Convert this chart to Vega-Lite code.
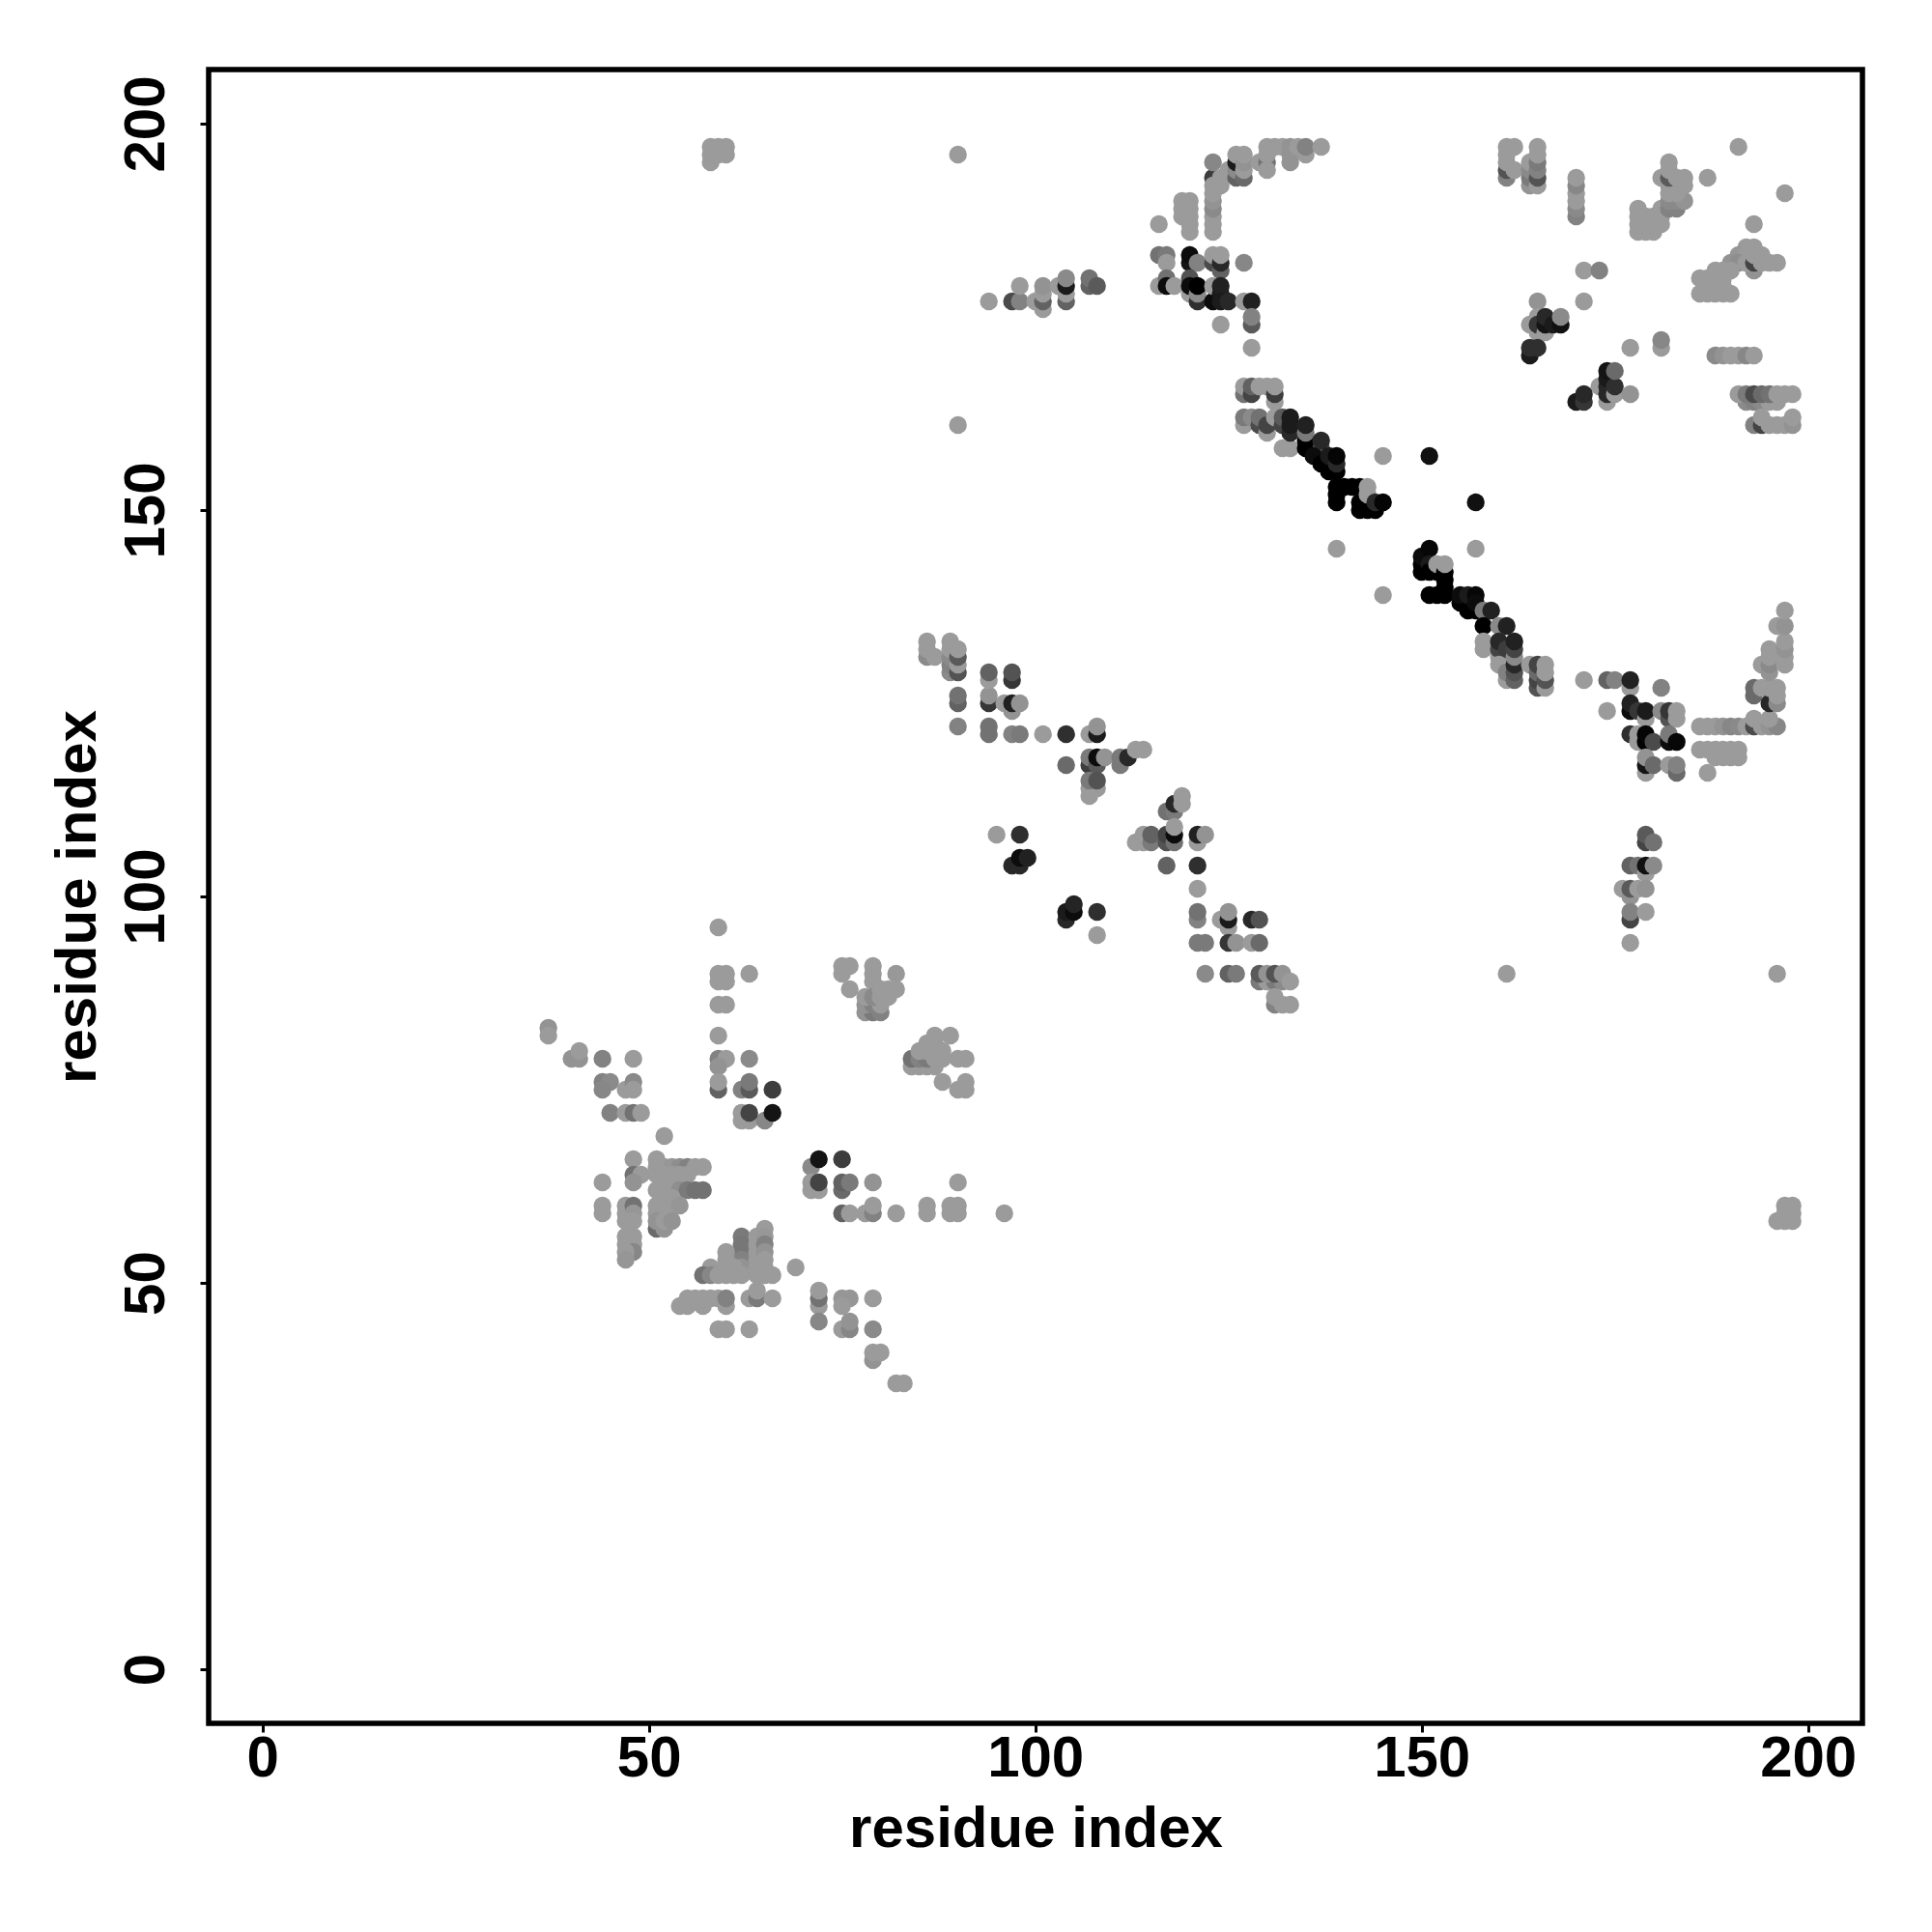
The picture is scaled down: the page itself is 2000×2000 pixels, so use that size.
{"$schema":"https://vega.github.io/schema/vega-lite/v6.json","width":1712,"height":1712,"autosize":{"type":"none"},"padding":{"left":216,"top":72,"right":72,"bottom":216},"background":"white","config":{"view":{"stroke":"#000","strokeWidth":5.5}},
"data":{"values":[
{"x":59,"y":96,"v":0},{"x":59,"y":90,"v":0},{"x":60,"y":90,"v":0},{"x":59,"y":89,"v":0},{"x":60,"y":89,"v":0},{"x":63,"y":90,"v":0},{"x":59,"y":86,"v":0},{"x":60,"y":86,"v":0},{"x":59,"y":82,"v":0},{"x":37,"y":83,"v":0.05},{"x":37,"y":82,"v":0},{"x":40,"y":79,"v":0.05},{"x":41,"y":79,"v":0.05},{"x":41,"y":80,"v":0},{"x":44,"y":79,"v":0.15},{"x":48,"y":79,"v":0},
{"x":44,"y":76,"v":0.15},{"x":45,"y":76,"v":0.1},{"x":44,"y":75,"v":0.12},{"x":47,"y":75,"v":0},{"x":48,"y":76,"v":0.1},{"x":48,"y":75,"v":0},{"x":45,"y":72,"v":0.15},{"x":47,"y":72,"v":0},{"x":48,"y":72,"v":0.25},{"x":49,"y":72,"v":0},
{"x":59,"y":79,"v":0.15},{"x":60,"y":79,"v":0},{"x":63,"y":79,"v":0.1},{"x":59,"y":78,"v":0.05},{"x":59,"y":75,"v":0.35},{"x":59,"y":76,"v":0},{"x":62,"y":75,"v":0.15},{"x":63,"y":75,"v":0.4},{"x":63,"y":76,"v":0.2},{"x":66,"y":75,"v":0.6},{"x":62,"y":71,"v":0},{"x":63,"y":71,"v":0},{"x":65,"y":71,"v":0.12},{"x":62,"y":72,"v":0},{"x":63,"y":72,"v":0.55},{"x":66,"y":72,"v":0.9},{"x":52,"y":69,"v":0},
{"x":48,"y":66,"v":0},{"x":51,"y":66,"v":0},{"x":51,"y":65,"v":0},{"x":52,"y":65,"v":0},{"x":53,"y":65,"v":0.03},{"x":54,"y":65,"v":0.08},{"x":55,"y":65,"v":0.15},{"x":56,"y":65,"v":0},{"x":57,"y":65,"v":0},{"x":48,"y":64,"v":0.25},{"x":49,"y":64,"v":0},{"x":48,"y":63,"v":0.05},{"x":44,"y":63,"v":0},{"x":51,"y":64,"v":0},{"x":52,"y":64,"v":0},{"x":53,"y":64,"v":0},{"x":54,"y":64,"v":0},{"x":55,"y":64,"v":0},
{"x":51,"y":62,"v":0},{"x":52,"y":62,"v":0},{"x":53,"y":62,"v":0},{"x":54,"y":62,"v":0.08},{"x":55,"y":62,"v":0.2},{"x":56,"y":62,"v":0.25},{"x":57,"y":62,"v":0.25},{"x":52,"y":61,"v":0},{"x":53,"y":61,"v":0},{"x":44,"y":60,"v":0},{"x":44,"y":59,"v":0},{"x":47,"y":60,"v":0},{"x":47,"y":59,"v":0},{"x":48,"y":60,"v":0.25},{"x":48,"y":59,"v":0.03},{"x":51,"y":60,"v":0},{"x":52,"y":60,"v":0},{"x":53,"y":60,"v":0},{"x":54,"y":60,"v":0.03},{"x":51,"y":59,"v":0},{"x":52,"y":59,"v":0},{"x":51,"y":57,"v":0.3},{"x":52,"y":57,"v":0.05},{"x":51,"y":58,"v":0.05},{"x":52,"y":58,"v":0},{"x":53,"y":58,"v":0.05},
{"x":47,"y":58,"v":0},{"x":48,"y":58,"v":0},{"x":47,"y":56,"v":0},{"x":48,"y":56,"v":0},{"x":47,"y":55,"v":0},{"x":48,"y":55,"v":0},{"x":48,"y":54,"v":0.12},{"x":47,"y":54,"v":0},{"x":47,"y":53,"v":0.03},
{"x":75,"y":91,"v":0},{"x":76,"y":91,"v":0},{"x":75,"y":90,"v":0},{"x":76,"y":88,"v":0},{"x":79,"y":91,"v":0},{"x":79,"y":90,"v":0},{"x":82,"y":90,"v":0.02},{"x":79,"y":89,"v":0},{"x":78,"y":85,"v":0.05},{"x":79,"y":85,"v":0.2},{"x":80,"y":85,"v":0.15},{"x":78,"y":86,"v":0.05},{"x":79,"y":86,"v":0.15},{"x":80,"y":86,"v":0},{"x":78,"y":87,"v":0},{"x":79,"y":87,"v":0.1},{"x":80,"y":87,"v":0},{"x":81,"y":87,"v":0},{"x":80,"y":88,"v":0},{"x":81,"y":88,"v":0},{"x":82,"y":88,"v":0},
{"x":84,"y":78,"v":0},{"x":85,"y":78,"v":0},{"x":86,"y":78,"v":0},{"x":87,"y":78,"v":0},{"x":84,"y":79,"v":0.25},{"x":85,"y":79,"v":0.15},{"x":86,"y":79,"v":0.2},{"x":87,"y":79,"v":0},{"x":88,"y":79,"v":0},{"x":85,"y":80,"v":0},{"x":86,"y":80,"v":0},{"x":87,"y":80,"v":0},{"x":88,"y":80,"v":0},{"x":86,"y":81,"v":0},{"x":87,"y":81,"v":0},{"x":87,"y":82,"v":0},{"x":89,"y":82,"v":0},{"x":90,"y":79,"v":0},{"x":91,"y":79,"v":0},{"x":88,"y":76,"v":0},{"x":90,"y":75,"v":0},{"x":91,"y":75,"v":0},{"x":91,"y":76,"v":0},
{"x":71,"y":65,"v":0.1},{"x":72,"y":66,"v":0.9},{"x":75,"y":66,"v":0.6},{"x":71,"y":62,"v":0},{"x":72,"y":62,"v":0},{"x":71,"y":63,"v":0},{"x":72,"y":63,"v":0.55},{"x":75,"y":62,"v":0.3},{"x":75,"y":63,"v":0.35},{"x":76,"y":63,"v":0.2},{"x":79,"y":63,"v":0.05},{"x":75,"y":59,"v":0.35},{"x":76,"y":59,"v":0},{"x":78,"y":59,"v":0},{"x":79,"y":59,"v":0.15},{"x":79,"y":60,"v":0},{"x":82,"y":59,"v":0},{"x":86,"y":59,"v":0},{"x":86,"y":60,"v":0},{"x":89,"y":59,"v":0},{"x":90,"y":59,"v":0},{"x":89,"y":60,"v":0},{"x":90,"y":60,"v":0},{"x":90,"y":63,"v":0},{"x":96,"y":59,"v":0},
{"x":62,"y":56,"v":0.2},{"x":62,"y":55,"v":0.22},{"x":62,"y":54,"v":0.22},{"x":62,"y":53,"v":0.15},{"x":62,"y":52,"v":0.05},{"x":64,"y":56,"v":0},{"x":64,"y":55,"v":0},{"x":64,"y":54,"v":0},{"x":64,"y":53,"v":0},{"x":64,"y":52,"v":0},{"x":65,"y":57,"v":0},{"x":65,"y":56,"v":0.02},{"x":65,"y":55,"v":0.15},{"x":65,"y":54,"v":0.05},{"x":65,"y":53,"v":0},{"x":65,"y":52,"v":0},{"x":60,"y":54,"v":0},{"x":60,"y":53,"v":0},{"x":60,"y":52,"v":0},{"x":61,"y":52,"v":0},{"x":58,"y":52,"v":0},{"x":57,"y":51,"v":0.25},{"x":58,"y":51,"v":0.12},{"x":59,"y":51,"v":0},{"x":60,"y":51,"v":0},{"x":61,"y":51,"v":0},{"x":62,"y":51,"v":0},{"x":64,"y":51,"v":0},{"x":65,"y":51,"v":0},{"x":66,"y":51,"v":0},{"x":69,"y":52,"v":0},
{"x":54,"y":47,"v":0},{"x":55,"y":47,"v":0},{"x":57,"y":47,"v":0},{"x":60,"y":47,"v":0},{"x":55,"y":48,"v":0},{"x":56,"y":48,"v":0},{"x":57,"y":48,"v":0},{"x":58,"y":48,"v":0},{"x":59,"y":48,"v":0},{"x":60,"y":48,"v":0.15},{"x":63,"y":48,"v":0},{"x":64,"y":48,"v":0.2},{"x":64,"y":49,"v":0},{"x":66,"y":48,"v":0},
{"x":72,"y":47,"v":0},{"x":72,"y":48,"v":0.25},{"x":72,"y":49,"v":0},{"x":72,"y":45,"v":0.12},{"x":75,"y":48,"v":0.03},{"x":76,"y":48,"v":0.03},{"x":75,"y":47,"v":0},{"x":75,"y":44,"v":0},{"x":76,"y":44,"v":0.12},{"x":76,"y":45,"v":0.05},{"x":79,"y":48,"v":0},{"x":79,"y":44,"v":0.1},{"x":79,"y":40,"v":0.05},{"x":79,"y":41,"v":0},{"x":80,"y":41,"v":0},{"x":82,"y":37,"v":0},{"x":83,"y":37,"v":0},{"x":59,"y":44,"v":0},{"x":60,"y":44,"v":0},{"x":63,"y":44,"v":0},
{"x":86,"y":131,"v":0.1},{"x":86,"y":132,"v":0},{"x":86,"y":133,"v":0},{"x":87,"y":131,"v":0},{"x":89,"y":129,"v":0.1},{"x":89,"y":130,"v":0.15},{"x":89,"y":131,"v":0.1},{"x":89,"y":132,"v":0},{"x":89,"y":133,"v":0},{"x":90,"y":129,"v":0.45},{"x":90,"y":130,"v":0},{"x":90,"y":131,"v":0.4},{"x":90,"y":132,"v":0},{"x":90,"y":125,"v":0.35},{"x":90,"y":126,"v":0.25},{"x":90,"y":122,"v":0.15},
{"x":94,"y":125,"v":0.65},{"x":94,"y":126,"v":0.05},{"x":94,"y":128,"v":0},{"x":94,"y":129,"v":0.35},{"x":94,"y":121,"v":0.25},{"x":94,"y":122,"v":0.25},{"x":97,"y":128,"v":0.65},{"x":97,"y":129,"v":0.45},{"x":96,"y":125,"v":0},{"x":97,"y":124,"v":0.05},{"x":97,"y":125,"v":0.8},{"x":98,"y":125,"v":0.05},{"x":97,"y":121,"v":0.15},{"x":98,"y":121,"v":0.2},{"x":101,"y":121,"v":0},{"x":104,"y":121,"v":0.7},{"x":107,"y":121,"v":0},{"x":108,"y":121,"v":0.85},{"x":108,"y":122,"v":0.05},
{"x":104,"y":117,"v":0.3},{"x":107,"y":117,"v":0.6},{"x":107,"y":118,"v":0.2},{"x":108,"y":117,"v":0.4},{"x":108,"y":118,"v":0.95},{"x":109,"y":118,"v":0.05},{"x":107,"y":113,"v":0},{"x":107,"y":114,"v":0},{"x":108,"y":114,"v":0},{"x":107,"y":115,"v":0.2},{"x":108,"y":115,"v":0.45},{"x":111,"y":117,"v":0.2},{"x":111,"y":118,"v":0.2},{"x":112,"y":118,"v":0.75},{"x":113,"y":119,"v":0},{"x":114,"y":119,"v":0},
{"x":117,"y":111,"v":0.25},{"x":118,"y":111,"v":0.2},{"x":118,"y":112,"v":0.75},{"x":119,"y":112,"v":0},{"x":119,"y":113,"v":0},{"x":95,"y":108,"v":0},{"x":98,"y":108,"v":0.7},{"x":97,"y":104,"v":0.75},{"x":98,"y":104,"v":0.75},{"x":98,"y":105,"v":0.95},{"x":99,"y":105,"v":0.8},
{"x":113,"y":107,"v":0},{"x":114,"y":107,"v":0},{"x":114,"y":108,"v":0},{"x":115,"y":107,"v":0.2},{"x":115,"y":108,"v":0.35},{"x":117,"y":107,"v":0.45},{"x":117,"y":108,"v":0.55},{"x":118,"y":107,"v":0.25},{"x":118,"y":108,"v":0.95},{"x":118,"y":109,"v":0},{"x":121,"y":107,"v":0},{"x":121,"y":108,"v":0.8},{"x":122,"y":108,"v":0.05},{"x":117,"y":104,"v":0.35},{"x":121,"y":104,"v":0.7},{"x":121,"y":101,"v":0},
{"x":104,"y":97,"v":0.75},{"x":104,"y":98,"v":0.85},{"x":105,"y":98,"v":0.95},{"x":105,"y":99,"v":0.78},{"x":108,"y":98,"v":0.7},{"x":108,"y":95,"v":0},{"x":121,"y":97,"v":0.15},{"x":121,"y":98,"v":0.25},{"x":124,"y":97,"v":0},{"x":125,"y":96,"v":0},{"x":125,"y":97,"v":0.85},{"x":125,"y":98,"v":0.05},{"x":128,"y":97,"v":0.75},{"x":129,"y":97,"v":0.45},
{"x":121,"y":94,"v":0.2},{"x":122,"y":94,"v":0.2},{"x":125,"y":94,"v":0.65},{"x":126,"y":94,"v":0.05},{"x":128,"y":94,"v":0},{"x":129,"y":94,"v":0.3},{"x":122,"y":90,"v":0.1},{"x":125,"y":90,"v":0.35},{"x":126,"y":90,"v":0.2},{"x":129,"y":89,"v":0.2},{"x":130,"y":89,"v":0},{"x":131,"y":89,"v":0.2},{"x":132,"y":89,"v":0.1},{"x":129,"y":90,"v":0.4},{"x":130,"y":90,"v":0.05},{"x":131,"y":90,"v":0.45},{"x":132,"y":90,"v":0.05},{"x":133,"y":89,"v":0},{"x":131,"y":86,"v":0.15},{"x":131,"y":87,"v":0},{"x":132,"y":86,"v":0},{"x":133,"y":86,"v":0},
{"x":94,"y":177,"v":0},{"x":97,"y":177,"v":0.5},{"x":98,"y":177,"v":0.15},{"x":98,"y":179,"v":0},{"x":100,"y":177,"v":0},{"x":101,"y":176,"v":0},{"x":101,"y":177,"v":0.35},{"x":101,"y":178,"v":0},{"x":101,"y":179,"v":0.05},{"x":103,"y":179,"v":0},{"x":104,"y":177,"v":0.35},{"x":104,"y":178,"v":0},{"x":104,"y":179,"v":0.85},{"x":104,"y":180,"v":0.1},{"x":107,"y":179,"v":0.35},{"x":107,"y":180,"v":0.25},{"x":108,"y":179,"v":0.4},
{"x":116,"y":187,"v":0},{"x":119,"y":188,"v":0},{"x":119,"y":189,"v":0},{"x":119,"y":190,"v":0},{"x":120,"y":186,"v":0},{"x":120,"y":187,"v":0},{"x":120,"y":188,"v":0},{"x":120,"y":189,"v":0},{"x":120,"y":190,"v":0},
{"x":123,"y":186,"v":0},{"x":123,"y":187,"v":0},{"x":123,"y":188,"v":0},{"x":123,"y":189,"v":0.1},{"x":123,"y":190,"v":0.05},{"x":123,"y":191,"v":0},{"x":123,"y":193,"v":0.6},{"x":123,"y":192,"v":0},{"x":123,"y":195,"v":0.12},{"x":124,"y":193,"v":0},{"x":124,"y":192,"v":0},{"x":125,"y":194,"v":0},{"x":126,"y":193,"v":0.35},{"x":126,"y":194,"v":0.1},{"x":126,"y":195,"v":0.85},{"x":126,"y":196,"v":0},{"x":127,"y":193,"v":0.3},{"x":127,"y":194,"v":0},{"x":127,"y":195,"v":0.05},{"x":127,"y":196,"v":0},{"x":129,"y":195,"v":0},{"x":130,"y":195,"v":0.25},{"x":130,"y":194,"v":0},{"x":130,"y":196,"v":0},{"x":130,"y":197,"v":0},{"x":131,"y":197,"v":0},{"x":132,"y":197,"v":0},{"x":133,"y":195,"v":0.05},{"x":133,"y":196,"v":0.05},{"x":133,"y":197,"v":0.05},{"x":134,"y":197,"v":0},{"x":135,"y":196,"v":0},{"x":135,"y":197,"v":0.15},{"x":137,"y":197,"v":0},
{"x":116,"y":183,"v":0.25},{"x":117,"y":183,"v":0.2},{"x":117,"y":182,"v":0},{"x":120,"y":182,"v":0.9},{"x":120,"y":183,"v":0.95},{"x":121,"y":182,"v":0.15},{"x":123,"y":182,"v":0.5},{"x":123,"y":183,"v":0},{"x":124,"y":181,"v":0.35},{"x":124,"y":182,"v":0.75},{"x":124,"y":183,"v":0},{"x":127,"y":182,"v":0.12},
{"x":116,"y":179,"v":0},{"x":117,"y":180,"v":0.25},{"x":117,"y":179,"v":0.95},{"x":118,"y":179,"v":0},{"x":120,"y":178,"v":0},{"x":120,"y":180,"v":0.45},{"x":120,"y":179,"v":0.95},{"x":121,"y":177,"v":0.7},{"x":121,"y":178,"v":0.1},{"x":121,"y":179,"v":1},{"x":123,"y":177,"v":0.95},{"x":123,"y":179,"v":0},{"x":124,"y":178,"v":0.85},{"x":124,"y":179,"v":0.8},{"x":124,"y":177,"v":0.85},{"x":125,"y":177,"v":0.75},{"x":127,"y":177,"v":0},{"x":128,"y":177,"v":0.8},{"x":128,"y":174,"v":0.4},{"x":128,"y":175,"v":0.15},{"x":124,"y":174,"v":0},{"x":128,"y":171,"v":0},
{"x":127,"y":165,"v":0.25},{"x":127,"y":166,"v":0},{"x":128,"y":165,"v":0.55},{"x":128,"y":166,"v":0.35},{"x":129,"y":166,"v":0},{"x":130,"y":166,"v":0},{"x":131,"y":164,"v":0},{"x":131,"y":165,"v":0.6},{"x":131,"y":166,"v":0},
{"x":127,"y":161,"v":0},{"x":127,"y":162,"v":0.2},{"x":128,"y":162,"v":0.1},{"x":129,"y":161,"v":0.5},{"x":129,"y":162,"v":0.25},{"x":130,"y":160,"v":0},{"x":130,"y":161,"v":0.55},{"x":131,"y":162,"v":0},{"x":132,"y":158,"v":0},{"x":133,"y":158,"v":0},{"x":132,"y":161,"v":0.55},{"x":132,"y":162,"v":0.4},{"x":133,"y":160,"v":0.75},{"x":133,"y":161,"v":0.85},{"x":133,"y":162,"v":0.85},{"x":135,"y":158,"v":1},{"x":135,"y":159,"v":1},{"x":135,"y":160,"v":0.2},{"x":135,"y":161,"v":0.8},{"x":137,"y":158,"v":0.45},{"x":136,"y":157,"v":0.95},{"x":137,"y":159,"v":0.75},
{"x":138,"y":155,"v":1},{"x":139,"y":155,"v":1},{"x":138,"y":156,"v":1},{"x":137,"y":156,"v":1},{"x":138,"y":157,"v":0.85},{"x":139,"y":156,"v":0.75},{"x":139,"y":157,"v":0.98},{"x":139,"y":151,"v":1},{"x":139,"y":152,"v":1},{"x":139,"y":153,"v":1},{"x":140,"y":153,"v":1},{"x":141,"y":153,"v":1},{"x":142,"y":153,"v":1},{"x":142,"y":150,"v":1},{"x":142,"y":151,"v":1},{"x":143,"y":150,"v":1},{"x":144,"y":150,"v":1},{"x":143,"y":152,"v":0},{"x":143,"y":153,"v":0},{"x":144,"y":151,"v":0.75},{"x":145,"y":151,"v":0.98},
{"x":145,"y":157,"v":0},{"x":151,"y":157,"v":0.92},{"x":157,"y":151,"v":0.92},{"x":139,"y":145,"v":0},{"x":157,"y":145,"v":0},{"x":145,"y":139,"v":0},
{"x":150,"y":142,"v":1},{"x":150,"y":143,"v":1},{"x":150,"y":144,"v":0.95},{"x":151,"y":145,"v":0.97},{"x":151,"y":143,"v":0.85},{"x":151,"y":142,"v":1},{"x":152,"y":142,"v":1},{"x":152,"y":143,"v":0},{"x":153,"y":139,"v":1},{"x":153,"y":140,"v":1},{"x":153,"y":141,"v":1},{"x":153,"y":142,"v":1},{"x":153,"y":143,"v":0},{"x":151,"y":139,"v":1},{"x":152,"y":139,"v":1},{"x":155,"y":138,"v":1},{"x":155,"y":139,"v":0.95},{"x":156,"y":137,"v":1},{"x":156,"y":139,"v":0.85},{"x":157,"y":139,"v":0.97},{"x":157,"y":137,"v":1},{"x":157,"y":138,"v":0.95},{"x":158,"y":137,"v":0.2},{"x":159,"y":137,"v":0.8},
{"x":158,"y":135,"v":1},{"x":160,"y":135,"v":0.1},{"x":161,"y":135,"v":0.8},{"x":158,"y":132,"v":0},{"x":158,"y":133,"v":0},{"x":160,"y":131,"v":0},{"x":161,"y":131,"v":0.1},{"x":160,"y":132,"v":0.55},{"x":160,"y":133,"v":0.75},{"x":161,"y":132,"v":0.6},{"x":160,"y":130,"v":0},{"x":161,"y":128,"v":0},{"x":161,"y":129,"v":0.15},{"x":162,"y":128,"v":0.35},{"x":162,"y":129,"v":0.45},{"x":162,"y":130,"v":0.75},{"x":162,"y":131,"v":0.1},{"x":162,"y":132,"v":0.55},{"x":162,"y":133,"v":0.8},
{"x":164,"y":130,"v":0},{"x":165,"y":127,"v":0.45},{"x":165,"y":128,"v":0.55},{"x":165,"y":129,"v":0.3},{"x":165,"y":130,"v":0.55},{"x":166,"y":127,"v":0},{"x":166,"y":128,"v":0.45},{"x":166,"y":129,"v":0},{"x":166,"y":130,"v":0},
{"x":171,"y":128,"v":0},{"x":174,"y":128,"v":0.35},{"x":175,"y":128,"v":0.15},{"x":177,"y":127,"v":0},{"x":177,"y":128,"v":0.8},{"x":181,"y":127,"v":0.15},{"x":174,"y":124,"v":0},{"x":177,"y":124,"v":0.95},{"x":177,"y":125,"v":0.8},{"x":178,"y":124,"v":0.65},{"x":179,"y":123,"v":0},{"x":179,"y":124,"v":0.85},{"x":181,"y":124,"v":0.1},{"x":182,"y":123,"v":0.45},{"x":182,"y":124,"v":0.65},{"x":183,"y":123,"v":0},{"x":183,"y":124,"v":0},
{"x":177,"y":121,"v":0.7},{"x":178,"y":120,"v":0},{"x":178,"y":121,"v":0},{"x":179,"y":120,"v":1},{"x":179,"y":121,"v":0.98},{"x":180,"y":120,"v":0.5},{"x":182,"y":120,"v":0.95},{"x":182,"y":121,"v":0.2},{"x":183,"y":120,"v":0.97},{"x":179,"y":116,"v":0},{"x":179,"y":117,"v":0.9},{"x":179,"y":118,"v":0.05},{"x":180,"y":117,"v":0.3},{"x":182,"y":117,"v":0},{"x":183,"y":116,"v":0.3},{"x":183,"y":117,"v":0.15},{"x":187,"y":116,"v":0},
{"x":186,"y":122,"v":0},{"x":187,"y":122,"v":0},{"x":188,"y":122,"v":0},{"x":189,"y":122,"v":0.05},{"x":190,"y":122,"v":0.12},{"x":191,"y":122,"v":0.1},{"x":192,"y":122,"v":0},{"x":193,"y":122,"v":0.5},{"x":194,"y":122,"v":0},{"x":195,"y":122,"v":0.05},{"x":196,"y":122,"v":0.12},{"x":186,"y":119,"v":0},{"x":187,"y":119,"v":0},{"x":188,"y":119,"v":0},{"x":189,"y":119,"v":0},{"x":190,"y":119,"v":0},{"x":191,"y":119,"v":0},{"x":188,"y":118,"v":0},{"x":189,"y":118,"v":0},{"x":190,"y":118,"v":0},{"x":191,"y":118,"v":0},
{"x":193,"y":126,"v":0.3},{"x":193,"y":127,"v":0.3},{"x":193,"y":123,"v":0},{"x":194,"y":127,"v":0},{"x":195,"y":123,"v":0},{"x":195,"y":125,"v":0.75},{"x":195,"y":127,"v":0},{"x":196,"y":125,"v":0.1},{"x":196,"y":126,"v":0},{"x":196,"y":127,"v":0},{"x":194,"y":130,"v":0},{"x":195,"y":129,"v":0.05},{"x":195,"y":130,"v":0.1},{"x":195,"y":131,"v":0},{"x":195,"y":132,"v":0},{"x":197,"y":130,"v":0},{"x":197,"y":131,"v":0},{"x":197,"y":132,"v":0.05},{"x":197,"y":133,"v":0},{"x":196,"y":135,"v":0},{"x":197,"y":135,"v":0.05},{"x":197,"y":137,"v":0},
{"x":179,"y":107,"v":0.55},{"x":179,"y":108,"v":0.4},{"x":180,"y":107,"v":0.25},{"x":177,"y":104,"v":0.35},{"x":178,"y":104,"v":0.25},{"x":179,"y":103,"v":0},{"x":179,"y":104,"v":0.92},{"x":180,"y":104,"v":0.1},{"x":176,"y":101,"v":0},{"x":177,"y":100,"v":0.05},{"x":177,"y":101,"v":0.4},{"x":178,"y":101,"v":0},{"x":179,"y":101,"v":0.05},{"x":177,"y":97,"v":0.55},{"x":177,"y":98,"v":0.15},{"x":179,"y":98,"v":0},{"x":177,"y":94,"v":0},{"x":161,"y":90,"v":0},{"x":196,"y":90,"v":0},
{"x":161,"y":193,"v":0.15},{"x":161,"y":194,"v":0.45},{"x":161,"y":195,"v":0},{"x":161,"y":196,"v":0},{"x":161,"y":197,"v":0},{"x":162,"y":194,"v":0},{"x":162,"y":197,"v":0},{"x":164,"y":192,"v":0.05},{"x":164,"y":193,"v":0.2},{"x":164,"y":194,"v":0.1},{"x":164,"y":195,"v":0},{"x":165,"y":192,"v":0},{"x":165,"y":193,"v":0.45},{"x":165,"y":194,"v":0.15},{"x":165,"y":195,"v":0.2},{"x":165,"y":196,"v":0},{"x":165,"y":197,"v":0},
{"x":170,"y":188,"v":0.15},{"x":170,"y":189,"v":0.1},{"x":170,"y":190,"v":0},{"x":170,"y":191,"v":0},{"x":170,"y":192,"v":0.12},{"x":170,"y":193,"v":0},{"x":171,"y":181,"v":0},{"x":173,"y":181,"v":0.15},{"x":171,"y":177,"v":0},
{"x":165,"y":177,"v":0.05},{"x":164,"y":174,"v":0},{"x":165,"y":175,"v":0},{"x":165,"y":173,"v":0},{"x":165,"y":174,"v":0.65},{"x":166,"y":173,"v":0},{"x":166,"y":174,"v":0.9},{"x":166,"y":175,"v":0.75},{"x":167,"y":174,"v":0.85},{"x":168,"y":174,"v":0.92},{"x":168,"y":175,"v":0.1},{"x":164,"y":170,"v":0.85},{"x":164,"y":171,"v":0.7},{"x":165,"y":171,"v":0.7},
{"x":173,"y":166,"v":0},{"x":174,"y":164,"v":0},{"x":174,"y":165,"v":0.75},{"x":174,"y":166,"v":0.75},{"x":174,"y":167,"v":0.85},{"x":174,"y":168,"v":0.9},{"x":175,"y":165,"v":0},{"x":175,"y":166,"v":0.7},{"x":175,"y":168,"v":0.3},{"x":177,"y":165,"v":0.05},{"x":170,"y":164,"v":0.85},{"x":171,"y":164,"v":0.65},{"x":171,"y":165,"v":0.75},{"x":177,"y":171,"v":0},{"x":181,"y":171,"v":0},{"x":181,"y":172,"v":0.12},
{"x":191,"y":197,"v":0},{"x":187,"y":193,"v":0},{"x":197,"y":191,"v":0},{"x":182,"y":195,"v":0},{"x":178,"y":186,"v":0},{"x":178,"y":187,"v":0},{"x":178,"y":188,"v":0},{"x":178,"y":189,"v":0},{"x":179,"y":186,"v":0},{"x":179,"y":187,"v":0},{"x":179,"y":188,"v":0},{"x":180,"y":186,"v":0},{"x":180,"y":187,"v":0},{"x":180,"y":188,"v":0},{"x":181,"y":187,"v":0},{"x":181,"y":188,"v":0},{"x":181,"y":189,"v":0},{"x":182,"y":189,"v":0.15},{"x":183,"y":189,"v":0.15},{"x":182,"y":190,"v":0.1},{"x":183,"y":190,"v":0.1},{"x":184,"y":190,"v":0.05},{"x":182,"y":191,"v":0},{"x":183,"y":191,"v":0},{"x":182,"y":192,"v":0},{"x":183,"y":192,"v":0},{"x":184,"y":192,"v":0},{"x":181,"y":193,"v":0},{"x":182,"y":193,"v":0.4},{"x":182,"y":194,"v":0},{"x":183,"y":193,"v":0},{"x":184,"y":193,"v":0},
{"x":193,"y":187,"v":0},{"x":192,"y":184,"v":0},{"x":193,"y":184,"v":0},{"x":191,"y":183,"v":0.03},{"x":192,"y":183,"v":0},{"x":190,"y":182,"v":0.05},{"x":191,"y":182,"v":0.08},{"x":189,"y":181,"v":0},{"x":190,"y":181,"v":0},{"x":188,"y":180,"v":0},{"x":189,"y":180,"v":0},{"x":186,"y":180,"v":0},{"x":187,"y":180,"v":0},{"x":188,"y":181,"v":0},{"x":187,"y":179,"v":0},{"x":188,"y":179,"v":0},{"x":189,"y":179,"v":0},{"x":186,"y":178,"v":0},{"x":187,"y":178,"v":0},{"x":188,"y":178,"v":0},{"x":189,"y":178,"v":0},{"x":190,"y":178,"v":0},{"x":193,"y":181,"v":0.05},{"x":192,"y":182,"v":0},{"x":193,"y":182,"v":0.55},{"x":193,"y":183,"v":0},{"x":194,"y":182,"v":0},{"x":194,"y":183,"v":0},{"x":195,"y":182,"v":0},{"x":196,"y":182,"v":0},
{"x":188,"y":170,"v":0.1},{"x":189,"y":170,"v":0.05},{"x":190,"y":170,"v":0},{"x":191,"y":170,"v":0},{"x":192,"y":170,"v":0.12},{"x":193,"y":170,"v":0},
{"x":192,"y":164,"v":0.1},{"x":193,"y":164,"v":0.15},{"x":194,"y":164,"v":0.1},{"x":195,"y":164,"v":0},{"x":196,"y":164,"v":0},{"x":191,"y":165,"v":0},{"x":192,"y":165,"v":0.2},{"x":193,"y":165,"v":0.5},{"x":194,"y":165,"v":0.3},{"x":195,"y":165,"v":0.25},{"x":196,"y":165,"v":0},{"x":197,"y":165,"v":0},{"x":198,"y":165,"v":0},{"x":193,"y":161,"v":0.15},{"x":194,"y":161,"v":0.55},{"x":194,"y":162,"v":0},{"x":195,"y":161,"v":0},{"x":196,"y":161,"v":0},{"x":197,"y":161,"v":0},{"x":198,"y":161,"v":0.05},{"x":198,"y":162,"v":0},
{"x":58,"y":195,"v":0},{"x":58,"y":196,"v":0},{"x":58,"y":197,"v":0},{"x":59,"y":196,"v":0},{"x":59,"y":197,"v":0},{"x":60,"y":196,"v":0},{"x":60,"y":197,"v":0},{"x":90,"y":196,"v":0},{"x":90,"y":161,"v":0},{"x":196,"y":58,"v":0},{"x":197,"y":58,"v":0},{"x":198,"y":58,"v":0},{"x":197,"y":59,"v":0},{"x":198,"y":59,"v":0},{"x":197,"y":60,"v":0},{"x":198,"y":60,"v":0}
]},
"mark":{"type":"point","shape":"circle","filled":true,"opacity":1,"size":340,"clip":true},
"encoding":{
"x":{"field":"x","type":"quantitative","scale":{"domain":[-6.96,207.04],"nice":false,"zero":false},"axis":{"values":[0,50,100,150,200],"title":"residue index","grid":false,"domain":false,"ticks":true,"tickSize":9,"tickWidth":3,"tickColor":"#000","labelFont":"Liberation Sans","labelFontWeight":"bold","labelFontSize":60,"labelColor":"#000","labelPadding":-2,"labelFlush":false,"labelOverlap":false,"titleFont":"Liberation Sans","titleFontWeight":"bold","titleFontSize":60,"titleColor":"#000","titlePadding":14}},
"y":{"field":"y","type":"quantitative","scale":{"domain":[-7,207],"nice":false,"zero":false},"axis":{"values":[0,50,100,150,200],"title":"residue index","grid":false,"domain":false,"ticks":true,"tickSize":9,"tickWidth":3,"tickColor":"#000","labelFont":"Liberation Sans","labelFontWeight":"bold","labelFontSize":60,"labelColor":"#000","labelAngle":270,"labelAlign":"center","labelBaseline":"alphabetic","labelPadding":38,"labelFlush":false,"labelOverlap":false,"titleFont":"Liberation Sans","titleFontWeight":"bold","titleFontSize":60,"titleColor":"#000","titlePadding":10}},
"color":{"field":"v","type":"quantitative","scale":{"domain":[0,1],"range":["#9b9b9b","#000000"]},"legend":null}
}}
